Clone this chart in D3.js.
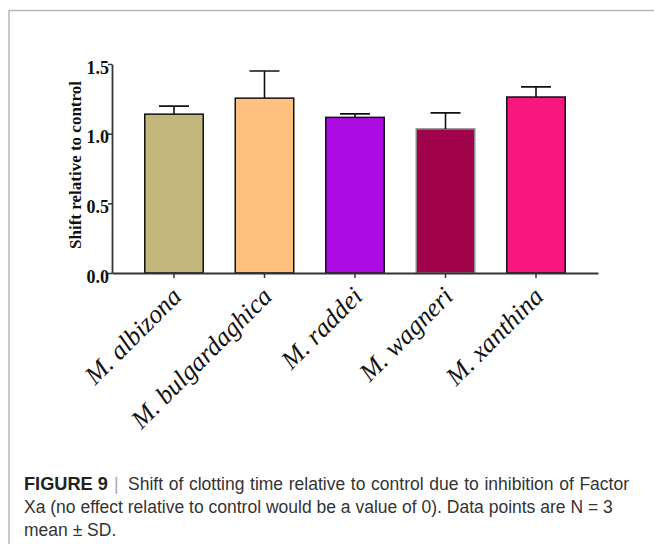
<!DOCTYPE html>
<html>
<head>
<meta charset="utf-8">
<script src="https://cdn.jsdelivr.net/npm/d3@7"></script>
<style>
  html, body { margin: 0; padding: 0; background: #fff; }
  svg { display: block; }
</style>
</head>
<body>
<svg id="fig" width="654" height="544"></svg>
<script>
// Species tested and their clotting-time shift (mean, +SD)
const species = ["M. albizona", "M. bulgardaghica", "M. raddei", "M. wagneri", "M. xanthina"];
const means = [1.14, 1.255, 1.117, 1.034, 1.263];
const sds = [0.058, 0.195, 0.025, 0.115, 0.073];
const colors = ["#C2B87E", "#FFC080", "#AC0BE2", "#A0034A", "#F7177F"];
const yTicks = [0.0, 0.5, 1.0, 1.5];
const yLabel = "Shift relative to control";

const serif = "'Liberation Serif', 'Times New Roman', serif";
const sans = "'Liberation Sans', Arial, Helvetica, sans-serif";

const svg = d3.select("#fig");

// panel frame
svg.append("path")
  .attr("d", "M9,560 V10.5 H660")
  .attr("fill", "none")
  .attr("stroke", "#b8b8b8")
  .attr("stroke-width", 1.5);

const x = d3.scaleBand()
  .domain(species)
  .range([112, 598])
  .paddingInner(0.354)
  .paddingOuter(0.362);

const y = d3.scaleLinear().domain([0, 1.5]).range([273, 64]);

const data = species.map((s, i) => ({ s, m: means[i], sd: sds[i], c: colors[i] }));

// bars
svg.append("g").selectAll("rect")
  .data(data)
  .join("rect")
  .attr("x", d => x(d.s))
  .attr("y", d => y(d.m))
  .attr("width", x.bandwidth())
  .attr("height", d => y(0) - y(d.m))
  .attr("fill", d => d.c)
  .attr("stroke", (d, i) => i === 3 ? "#8a8a8a" : "#111")
  .attr("stroke-width", 1.5);

// upper error bars
const cap = 15;
svg.append("g").attr("stroke", "#111").attr("stroke-width", 1.6).attr("fill", "none")
  .selectAll("path")
  .data(data)
  .join("path")
  .attr("d", d => {
    const cx = x(d.s) + x.bandwidth() / 2;
    return `M${cx},${y(d.m)} V${y(d.m + d.sd)} M${cx - cap},${y(d.m + d.sd)} H${cx + cap}`;
  });

// y axis
const yAxis = svg.append("g")
  .attr("transform", "translate(112,0)")
  .call(d3.axisLeft(y).tickValues(yTicks).tickFormat(d3.format(".1f")).tickSize(4).tickSizeOuter(0));
yAxis.select(".domain").attr("stroke", "#333").attr("stroke-width", 1.8);
yAxis.selectAll(".tick line").attr("stroke", "#333").attr("stroke-width", 1.5);
yAxis.selectAll(".tick text")
  .attr("x", -3)
  .attr("dy", "0.5em")
  .attr("fill", "#111")
  .style("font-family", serif)
  .style("font-weight", "bold")
  .style("font-size", "18px");

// x axis
const xAxis = svg.append("g")
  .attr("transform", "translate(0,273)")
  .call(d3.axisBottom(x).tickSize(5).tickSizeOuter(0));
xAxis.select(".domain").attr("stroke", "#333").attr("stroke-width", 1.8);
xAxis.selectAll(".tick line").attr("stroke", "#333").attr("stroke-width", 1.5);
xAxis.selectAll(".tick text")
  .attr("y", 0)
  .attr("dy", 0)
  .attr("transform", "translate(9,25) rotate(-45)")
  .attr("text-anchor", "end")
  .attr("fill", "#111")
  .style("font-family", serif)
  .style("font-style", "italic")
  .style("font-size", "26px");

// y axis title
svg.append("text")
  .attr("transform", "translate(81,165) rotate(-90)")
  .attr("text-anchor", "middle")
  .attr("fill", "#111")
  .style("font-family", serif)
  .style("font-weight", "bold")
  .style("font-size", "17px")
  .text(yLabel);

// figure caption
const capFont = "17.5px";
const line1 = svg.append("text")
  .attr("y", 490)
  .attr("fill", "#333")
  .style("font-family", sans)
  .style("font-size", capFont);
line1.append("tspan").attr("x", 24)
  .style("font-weight", "bold").style("font-size", "18.2px").attr("fill", "#222")
  .text("FIGURE 9");
line1.append("tspan").attr("x", 114).attr("fill", "#aaa").style("font-weight", "300").text("|");
line1.append("tspan").attr("x", 128)
  .style("word-spacing", "0.8px")
  .text("Shift of clotting time relative to control due to inhibition of Factor");

svg.append("text")
  .attr("x", 24).attr("y", 513)
  .attr("fill", "#333")
  .style("font-family", sans)
  .style("font-size", capFont)
  .text("Xa (no effect relative to control would be a value of 0). Data points are N = 3");

svg.append("text")
  .attr("x", 24).attr("y", 536)
  .attr("fill", "#333")
  .style("font-family", sans)
  .style("font-size", capFont)
  .text("mean ± SD.");
</script>
</body>
</html>
